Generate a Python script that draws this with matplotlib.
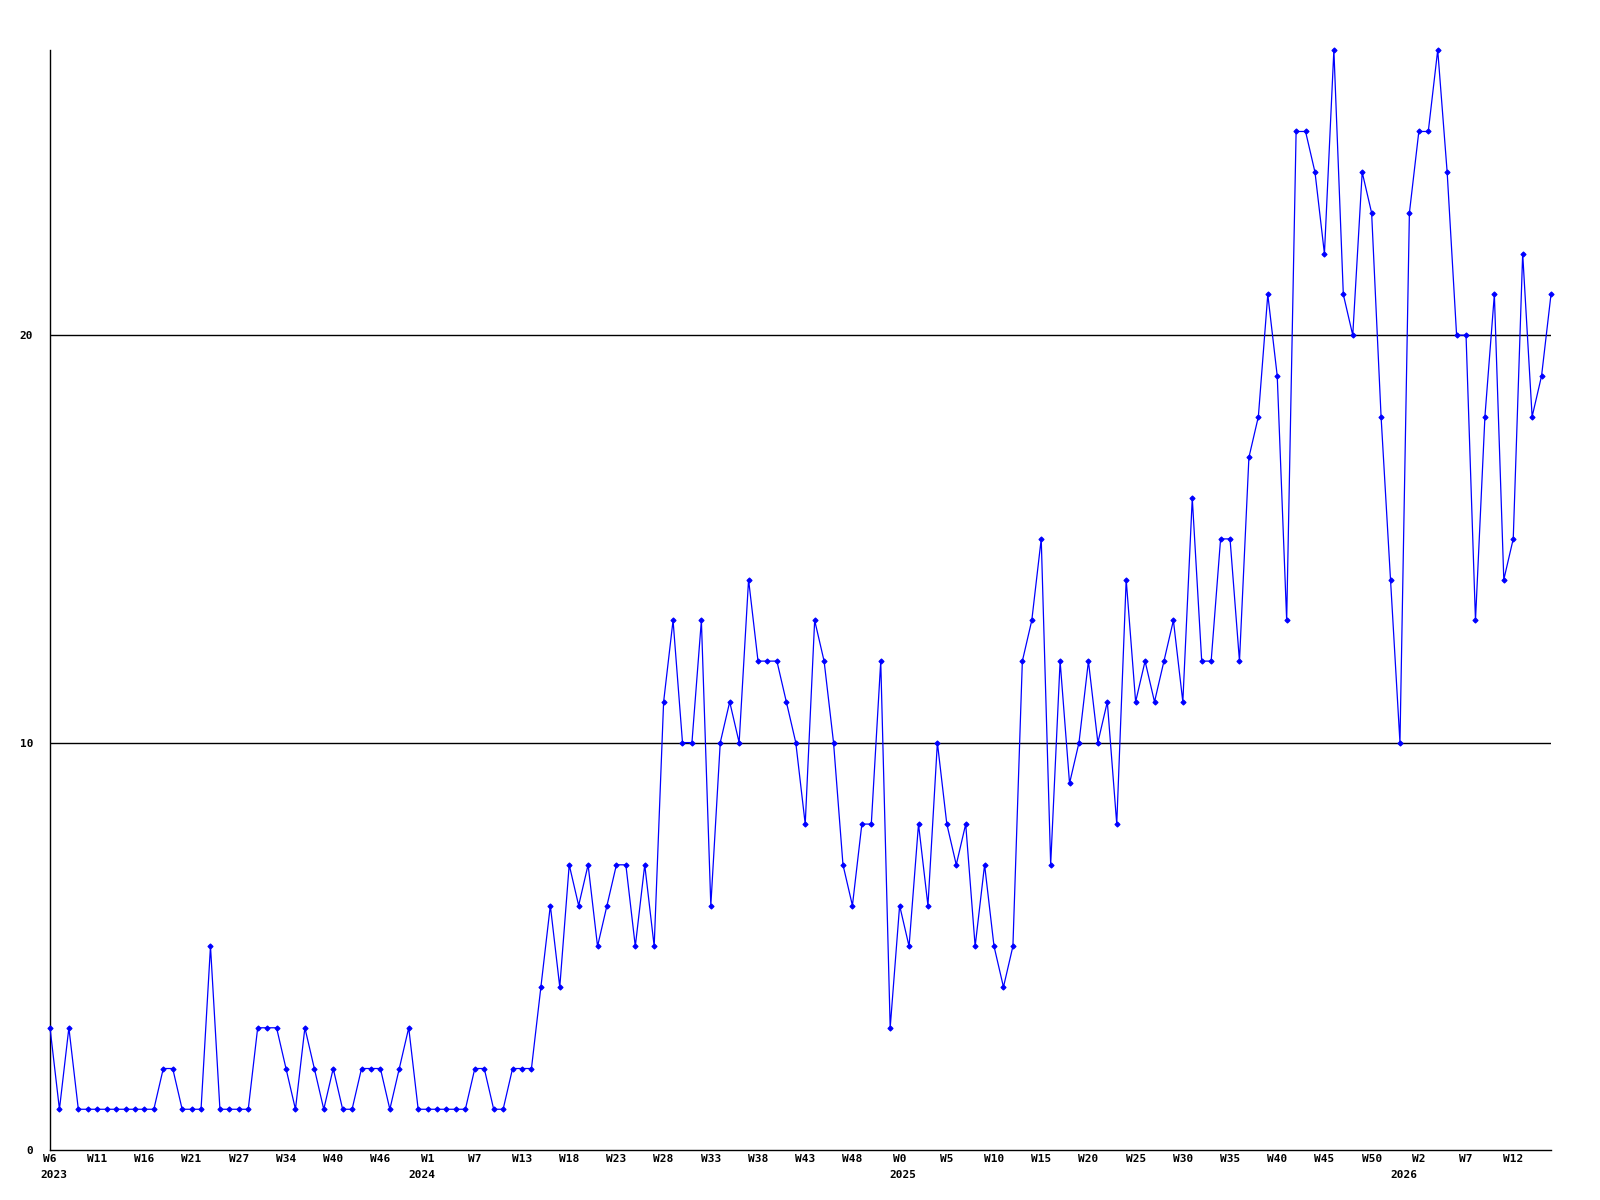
import matplotlib
matplotlib.use('Agg')
import matplotlib.pyplot as plt
import numpy as np

# weekly counts, W6 2023 .. W15 2026
values_2023 = [3, 1, 3, 1, 1, 1, 1, 1, 1, 1, 1, 1, 2, 2, 1, 1, 1, 5, 1, 1,
               1, 1, 3, 3, 3, 2, 1, 3, 2, 1, 2, 1, 1, 2, 2, 2, 1, 2, 3]
values_2024 = [1, 1, 1, 1, 1, 1, 2, 2, 1, 1, 2, 2, 2, 4, 6, 4, 7, 6, 7, 5,
               6, 7, 7, 5, 7, 5, 11, 13, 10, 10, 13, 6, 10, 11, 10, 14, 12, 12, 12, 11,
               10, 8, 13, 12, 10, 7, 6, 8, 8, 12, 3]
values_2025 = [6, 5, 8, 6, 10, 8, 7, 8, 5, 7, 5, 4, 5, 12, 13, 15, 7, 12, 9, 10,
               12, 10, 11, 8, 14, 11, 12, 11, 12, 13, 11, 16, 12, 12, 15, 15, 12, 17, 18, 21,
               19, 13, 25, 25, 24, 22, 27, 21, 20, 24, 23, 18, 14]
values_2026 = [10, 23, 25, 25, 27, 24, 20, 20, 13, 18, 21, 14, 15, 22, 18, 19, 21]

values = values_2023 + values_2024 + values_2025 + values_2026

# a label every 5th point
tick_labels = ['W6', 'W11', 'W16', 'W21', 'W27', 'W34', 'W40', 'W46',
               'W1', 'W7', 'W13', 'W18', 'W23', 'W28', 'W33', 'W38', 'W43', 'W48',
               'W0', 'W5', 'W10', 'W15', 'W20', 'W25', 'W30', 'W35', 'W40', 'W45', 'W50',
               'W2', 'W7', 'W12']
years = ['2023', '2024', '2025', '2026']

x = np.arange(len(values))
year_start = np.cumsum([0, len(values_2023), len(values_2024), len(values_2025)])

fig = plt.figure(figsize=(16, 12), dpi=100)
ax = fig.add_axes([50/1600, 50/1200, 1501/1600, 1100/1200])

ax.plot(x, values, color='#0000ff', lw=0.9, marker='D', ms=2.6, mew=0.8,
        clip_on=False, zorder=3)

ax.set_xlim(0, len(values) - 1)
ax.set_ylim(0, max(values))

for v in [10, 20]:
    ax.axhline(v, color='black', lw=1, zorder=1)

font = dict(family='DejaVu Sans Mono', weight='bold', size=8)

ax.set_yticks([0, 10, 20])
ax.set_yticklabels(['0', '10', '20'], **font)
ax.set_xticks(x[::5][:len(tick_labels)])
ax.set_xticklabels(tick_labels, **font)
ax.tick_params(axis='y', length=0, pad=12)
ax.tick_params(axis='x', length=0, pad=3)

for s in ['top', 'right']:
    ax.spines[s].set_visible(False)
for s in ['left', 'bottom']:
    ax.spines[s].set_linewidth(1)

for yr, i in zip(years, year_start):
    ax.annotate(yr, xy=(i, 0), xycoords=ax.get_xaxis_transform(),
                xytext=(-10, -20), textcoords='offset pixels',
                ha='left', va='top', **font)

fig.savefig('out.png', dpi=100)
